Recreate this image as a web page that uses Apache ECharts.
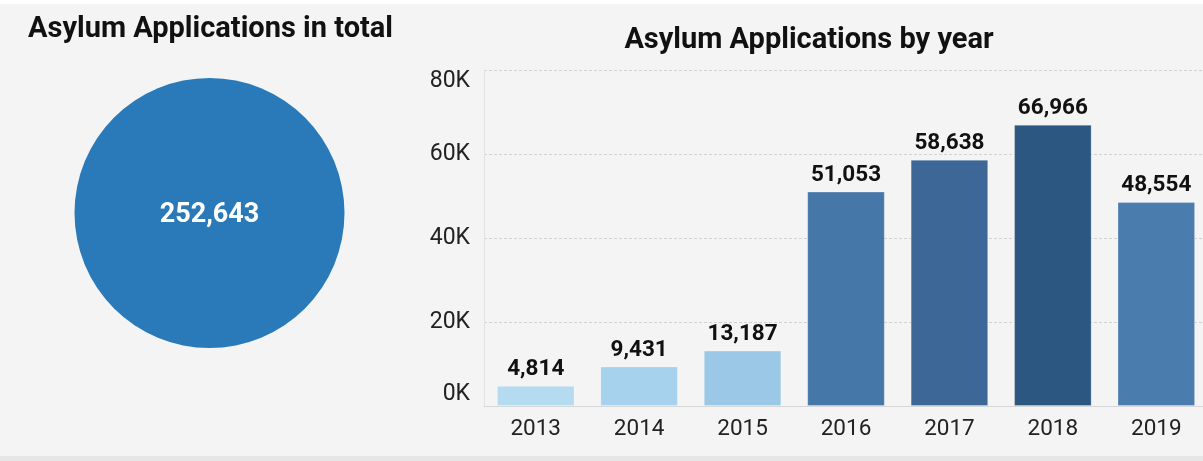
<!DOCTYPE html>
<html><head><meta charset="utf-8">
<script src="https://cdn.jsdelivr.net/npm/echarts@6/dist/echarts.min.js"></script>
<style>html,body{margin:0;padding:0;background:#f4f4f4;overflow:hidden;}#c{width:1208px;height:461px;}</style>
</head><body><div id="c"></div>
<script>
const years = ['2013','2014','2015','2016','2017','2018','2019'];
const applications = [4814, 9431, 13187, 51053, 58638, 66966, 48554];
const barColors = ['#b5dbf1','#a7d2ee','#9bc8e7','#4677a9','#3c6797','#2c5781','#4a7cad'];
const totalApplications = [252643];
const yTicks = [0, 20000, 40000, 60000, 80000];

const chart = echarts.init(document.getElementById('c'), null, {renderer:'canvas'});
const fmt = v => v.toLocaleString('en-US');
chart.setOption({
  backgroundColor: '#f4f4f4',
  animation: false,
  textStyle: {fontFamily: 'Roboto'},
  graphic: [
    {type:'rect', shape:{x:0,y:0,width:1208,height:4}, style:{fill:'#ffffff'}, silent:true},
    {type:'rect', shape:{x:0,y:456,width:1208,height:5}, style:{fill:'#e6e6e6'}, silent:true}
  ],
  title: [
    {text:'Asylum Applications in total', left:23, top:10,
     textStyle:{fontFamily:'Roboto', fontWeight:'bold', fontSize:29, color:'#111'}},
    {text:'Asylum Applications by year', left:804, textAlign:'center', top:21,
     textStyle:{fontFamily:'Roboto', fontWeight:'bold', fontSize:29, color:'#111'}}
  ],
  grid: {left:484, top:70, right:0, bottom:55, containLabel:false},
  xAxis: {
    type:'category', data: years,
    axisLine:{show:true, lineStyle:{color:'#d6d6d6', width:1}},
    axisTick:{show:false},
    axisLabel:{fontFamily:'Roboto', fontSize:22.5, color:'#222', margin:12}
  },
  yAxis: {
    type:'value', min:yTicks[0], max:yTicks[yTicks.length-1], interval:yTicks[1]-yTicks[0],
    axisLine:{show:true, lineStyle:{color:'#e2e2e2'}},
    axisTick:{show:false},
    axisLabel:{fontFamily:'Roboto', fontSize:23, color:'#222', margin:14,
      verticalAlignMinLabel:'bottom', verticalAlignMaxLabel:'top',
      formatter: v => (v/1000) + 'K'},
    splitLine:{show:true, lineStyle:{color:'#d2d2d2', type:[3,2], width:1}}
  },
  series: [
    {
      type:'bar', barCategoryGap:'25%',
      data: applications.map((v,i)=>({value:v, itemStyle:{color:barColors[i]}})),
      itemStyle:{borderColor:'rgba(255,255,255,0.25)', borderWidth:1},
      label:{show:true, position:'top', distance:5, fontFamily:'Roboto', fontWeight:'bold',
        fontSize:22.5, color:'#111', formatter: p => fmt(p.value)}
    },
    {
      type:'pie', center:[209.5, 213], radius:[0, 135],
      data: totalApplications.map(v=>({value:v, name:'Total'})),
      itemStyle:{color:'#2a7aba'},
      label:{show:true, position:'center', fontFamily:'Roboto', fontWeight:'bold', fontSize:27,
        color:'#ffffff', offset:[0,2], formatter: p => fmt(p.value)},
      labelLine:{show:false}, emphasis:{disabled:true}
    }
  ]
});
</script></body></html>
